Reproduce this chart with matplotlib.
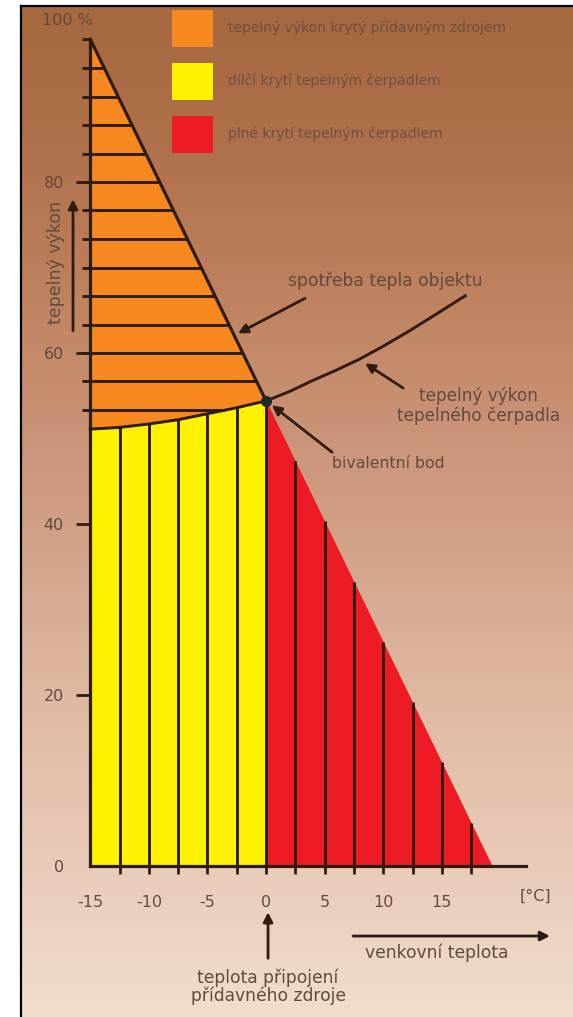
import numpy as np
import matplotlib
matplotlib.use('Agg')
import matplotlib.pyplot as plt
from matplotlib.colors import to_rgb
from matplotlib.patches import Patch
from matplotlib.lines import Line2D

# heat demand of the building, straight line [°C] -> [%]
demand_temp = [-15, 19.3]
demand_power = [96.7, 0]

# heat pump output
hp_temp = [-15, -12.5, -10, -7.5, -5, -2.5, 0, 2, 4, 6, 8, 10, 12, 14, 17]
hp_power = [51.1, 51.3, 51.7, 52.2, 52.9, 53.6, 54.4, 55.5, 56.8, 58.0, 59.3, 60.8, 62.4, 64.1, 66.7]

biv_temp = 0
biv_power = 54.4

x_ticks = [-15, -10, -5, 0, 5, 10, 15]
x_minor = [-12.5, -7.5, -2.5, 2.5, 7.5, 12.5, 17.5]
y_ticks = [0, 20, 40, 60, 80]

vert_hatch = [-12.5, -10, -7.5, -5, -2.5, 0, 2.5, 5, 7.5, 10, 12.5, 15, 17.5]
horiz_hatch = [53.3, 56.7, 60.0, 63.3, 66.7, 70.0, 73.3, 76.7, 80.0, 83.3, 86.7, 90.0, 93.3, 96.7]

legend_labels = ['tepelný výkon krytý přídavným zdrojem',
                 'dílčí krytí tepelným čerpadlem',
                 'plné krytí tepelným čerpadlem']
legend_colors = ['#f7881f', '#fff200', '#ed1c24']

dark = '#2e1c12'
txt = '#5e4b42'

W, H = 573, 1017
fig = plt.figure(figsize=(W / 100, H / 100), dpi=100, facecolor='white')
ax = fig.add_axes([0, 0, 1, 1])
ax.set_facecolor('none')

# pixel -> data scale of the original picture
xlim = (-22.70, 26.19)
ylim = (-17.66, 101.29)

# background gradient (inside the frame)
stops_px = [6, 150, 300, 500, 700, 900, 1017]
stops_col = ['#a6683f', '#b0704b', '#c0835f', '#cf9c82', '#dfb9a3', '#ebcfbc', '#f2ddcd']
rows = np.arange(6, H)
cols = np.array([to_rgb(c) for c in stops_col])
grad = np.stack([np.interp(rows, stops_px, cols[:, k]) for k in range(3)], axis=1)
grad = grad[:, None, :].repeat(2, axis=1)
ax.imshow(grad, extent=(-20.91, xlim[1], ylim[0], 100.59), aspect='auto',
          interpolation='bilinear', zorder=0)

hp_temp = np.array(hp_temp)
hp_power = np.array(hp_power)
left = hp_temp <= 0
x_left = hp_temp[left]
hp_left = hp_power[left]
dem_left = np.interp(x_left, demand_temp, demand_power)

# areas
ax.fill_between(x_left, hp_left, dem_left, color=legend_colors[0], lw=0, zorder=1)
ax.fill_between(x_left, 0, hp_left, color=legend_colors[1], lw=0, zorder=1)
x_right = np.array([biv_temp, demand_temp[1]])
ax.fill_between(x_right, 0, np.interp(x_right, demand_temp, demand_power),
                color=legend_colors[2], lw=0, zorder=1)

# hatching
for xv in vert_hatch:
    top = np.interp(xv, hp_temp, hp_power) if xv <= 0 else np.interp(xv, demand_temp, demand_power)
    ax.plot([xv, xv], [0, top], color=dark, lw=2.1, zorder=2, solid_capstyle='butt')

for yv in horiz_hatch:
    x_end = np.interp(yv, demand_power[::-1], demand_temp[::-1])
    if yv < biv_power:
        x_end = np.interp(yv, hp_left, x_left)
    ax.plot([-15.7, x_end], [yv, yv], color=dark, lw=2.1, zorder=2, solid_capstyle='butt')

# lines
ax.plot([demand_temp[0], biv_temp], [demand_power[0], biv_power], color=dark, lw=2.3, zorder=3)
ax.plot(hp_temp, hp_power, color=dark, lw=2.1, zorder=3)
ax.plot([biv_temp], [biv_power], 'o', color='#1c2a2a', ms=7, zorder=4)

# axes
for s in ['top', 'right']:
    ax.spines[s].set_visible(False)
ax.spines['left'].set_position(('data', -15))
ax.spines['left'].set_bounds(0, 96.7)
ax.spines['bottom'].set_position(('data', 0))
ax.spines['bottom'].set_bounds(-15, 22.2)
for s in ['left', 'bottom']:
    ax.spines[s].set_color(dark)
    ax.spines[s].set_linewidth(2.3)
    ax.spines[s].set_zorder(3)

ax.set_xticks(x_ticks)
ax.set_xticklabels([str(v) for v in x_ticks])
ax.set_xticks(x_minor, minor=True)
ax.tick_params(axis='x', which='both', direction='out', length=5.8, width=2,
               color=dark, pad=15, labelsize=11.5, labelcolor=txt)
ax.set_yticks(y_ticks)
ax.set_yticklabels([str(v) for v in y_ticks])
ax.tick_params(axis='y', direction='out', length=10, width=2, color=dark,
               pad=9, labelsize=11.5, labelcolor=txt)
ax.xaxis.get_major_ticks()[0].tick1line.set_visible(False)
ax.yaxis.get_major_ticks()[0].tick1line.set_visible(False)

ax.set_xlim(xlim)
ax.set_ylim(ylim)

# texts and arrows
aprops = dict(arrowstyle='-|>', color=dark, lw=2, mutation_scale=14, shrinkA=0, shrinkB=0)
ax.text(-16.98, 98.9, '100 %', fontsize=11.5, color=txt, ha='center', va='center')
ax.text(22.95, -3.6, '[°C]', fontsize=11.5, color=txt, ha='center', va='center')

ax.text(-17.9, 70.6, 'tepelný výkon', fontsize=12.5, color=txt, rotation=90,
        ha='center', va='center')
ax.annotate('', xy=(-16.47, 78.0), xytext=(-16.47, 62.6), arrowprops=aprops)

ax.annotate('', xy=(-2.39, 62.3), xytext=(3.33, 66.4), arrowprops=aprops)
ax.text(10.15, 68.5, 'spotřeba tepla objektu', fontsize=12.3, color=txt,
        ha='center', va='center')

ax.annotate('', xy=(8.45, 58.8), xytext=(11.7, 55.9), arrowprops=aprops)
ax.text(18.1, 53.8, 'tepelný výkon\ntepelného čerpadla', fontsize=12.2, color=txt,
        ha='center', va='center', linespacing=1.1)

ax.annotate('', xy=(0.5, 53.9), xytext=(5.63, 48.4), arrowprops=aprops)
ax.text(10.4, 47.1, 'bivalentní bod', fontsize=11.3, color=txt, ha='center', va='center')

ax.annotate('', xy=(0.17, -5.4), xytext=(0.17, -10.8), arrowprops=aprops)
ax.text(0.17, -14.15, 'teplota připojení\npřídavného zdroje', fontsize=12.3, color=txt,
        ha='center', va='center', linespacing=1.0)

ax.annotate('', xy=(24.23, -8.19), xytext=(7.42, -8.19), arrowprops=aprops)
ax.text(14.6, -10.2, 'venkovní teplota', fontsize=12.3, color=txt, ha='center', va='center')

# legend
handles = [Patch(facecolor=c, edgecolor='none') for c in legend_colors]
leg = fig.legend(handles, legend_labels, loc='upper left',
                 bbox_to_anchor=(172 / W, 1 - 10 / H), frameon=False,
                 fontsize=10, handlelength=2.95, handleheight=3.72,
                 labelspacing=1.15, handletextpad=1.08, borderpad=0, borderaxespad=0)
for t in leg.get_texts():
    t.set_color('#6a5046')

# frame
fig.add_artist(Line2D([21 / W, 21 / W], [0, 1 - 6 / H], color='black', lw=1.6))
fig.add_artist(Line2D([21 / W, 1], [1 - 6 / H, 1 - 6 / H], color='black', lw=1.6))

fig.savefig('out.png', dpi=100, facecolor='white')
